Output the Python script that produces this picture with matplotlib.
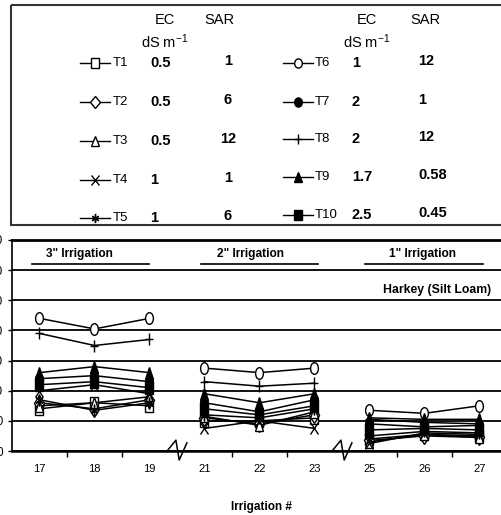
import matplotlib
matplotlib.use('Agg')
import matplotlib.pyplot as plt
from matplotlib.markers import MarkerStyle
from matplotlib.transforms import Affine2D
from matplotlib.patches import Rectangle

plt.rcParams['font.family'] = ['Liberation Sans', 'DejaVu Sans']
plt.rcParams['mathtext.fontset'] = 'custom'
plt.rcParams['mathtext.rm'] = 'Liberation Sans'
plt.rcParams['mathtext.default'] = 'regular'

# data
irrigations = ['17', '18', '19', '21', '22', '23', '25', '26', '27']
groups = ['3" Irrigation', '2" Irrigation', '1" Irrigation']
treatments = ['T1', 'T2', 'T3', 'T4', 'T5', 'T6', 'T7', 'T8', 'T9', 'T10']
ec_values = ['0.5', '0.5', '0.5', '1', '1', '1', '2', '2', '1.7', '2.5']
sar_values = ['1', '6', '12', '1', '6', '12', '1', '12', '0.58', '0.45']

t1 = [14, 16, 15, 10, 10, 11, 4, 5.5, 5]
t2 = [16, 14, 17, 11, 9, 12, 3.5, 5, 4.5]
t3 = [15, 16, 18, 11.5, 8.5, 13, 3, 5.5, 4.5]
t4 = [20, 22, 19, 7.5, 10, 7.5, 2.5, 6, 5.5]
t5 = [17, 13.5, 16, 12, 11, 14, 5, 6.5, 6]
t6 = [44, 40.5, 44, 27.5, 26, 27.5, 13.5, 12.5, 15]
t7 = [24, 25, 23, 16, 13, 17, 9, 8, 8.5]
t8 = [39, 35, 37, 23, 21.5, 22.5, 10.5, 9.5, 9]
t9 = [26, 28, 26, 19, 16, 19, 11, 10.5, 10.5]
t10 = [22, 23, 21, 14, 12, 15, 7, 7.5, 7]
series = [t1, t2, t3, t4, t5, t6, t7, t8, t9, t10]

# marker, filled
styles = [('s', False), ('D', False), ('^', False), ('x', False), ((6, 2, 0), False),
          ('o', False), ('o', True), ('+', False), ('^', True), ('s', True)]


def mstyle(m, sy):
    return MarkerStyle(m, transform=Affine2D().scale(1, sy))


fig = plt.figure(figsize=(5.02, 5.15), dpi=100)
W, H = 502, 515
ax = fig.add_axes([12 / W, (H - 451) / H, 495 / W, 211 / H])

for vals, (m, filled) in zip(series, styles):
    for g in range(3):
        xs = list(range(3 * g, 3 * g + 3))
        ax.plot(xs, vals[3 * g:3 * g + 3], color='black', lw=1.1,
                marker=mstyle(m, 1.5), ms=5.6, mew=1.0,
                mfc='black' if filled else 'white', mec='black', zorder=3)

ax.set_xlim(-0.5, 8.5)
ax.set_ylim(0, 70)
ax.set_yticks(range(0, 80, 10))
ax.yaxis.grid(True, color='black', lw=1.3)
ax.set_axisbelow(True)
ax.tick_params(axis='y', length=3, width=1, pad=3.5, labelsize=8.5)
ax.set_xticks(range(9), labels=irrigations)
ax.set_xticks([0.5, 1.5, 3.5, 4.5, 6.5, 7.5], minor=True)
ax.tick_params(axis='x', which='major', length=0, pad=9, labelsize=8)
ax.tick_params(axis='x', which='minor', length=4, width=1, direction='out')
ax.spines['right'].set_visible(False)
ax.spines['top'].set_linewidth(2)
ax.spines['bottom'].set_linewidth(1.8)
ax.spines['left'].set_linewidth(1.2)

# axis break marks
for xb in [2.5, 5.5]:
    ax.plot([xb - 0.18, xb - 0.02, xb + 0.04, xb + 0.18], [0, 3.6, -3, 2.7],
            color='black', lw=1.1, clip_on=False, zorder=4)

label_x = [0.72, 3.84, 6.97]
line_x = [(-0.14, 2.0), (2.93, 5.06), (5.92, 8.06)]
for name, lx, (x0, x1) in zip(groups, label_x, line_x):
    ax.text(lx, 65.4, name, ha='center', va='center', fontsize=8.6, weight='bold')
    ax.plot([x0, x1], [62, 62], color='black', lw=1.2)
ax.text(7.23, 53.5, 'Harkey (Silt Loam)', ha='center', va='center',
        fontsize=8.8, weight='bold')

fig.text(261 / W, 1 - 507 / H, 'Irrigation #', ha='center', va='center',
         fontsize=8.5, weight='bold')

# legend box with EC / SAR table
lg = fig.add_axes([0, 0, 1, 1])
lg.set_xlim(0, W)
lg.set_ylim(H, 0)
lg.axis('off')
lg.add_patch(Rectangle((11, 5), 500, 220, fill=False, ec='#333333', lw=1.5, clip_on=False))

cols = [dict(x0=80, lab=113, ec=150, sar=228, sar_ha='center', hx=165, sx=219,
             rows=[63, 102, 141, 180, 218]),
        dict(x0=283, lab=315, ec=352, sar=418, sar_ha='left', hx=367, sx=425,
             rows=[63, 102, 139, 177, 215])]
for c, col in enumerate(cols):
    lg.text(col['hx'], 20, 'EC', ha='center', va='center', fontsize=10.5)
    lg.text(col['hx'], 42, 'dS m$^{-1}$', ha='center', va='center', fontsize=10.5)
    lg.text(col['sx'], 20, 'SAR', ha='center', va='center', fontsize=10.5)
    for r, y in enumerate(col['rows']):
        i = c * 5 + r
        m, filled = styles[i]
        lg.plot([col['x0'], col['x0'] + 30], [y, y], color='black', lw=1.0)
        lg.plot([col['x0'] + 15], [y], marker=mstyle(m, 1.2), ms=5.5, mew=1.0,
                mfc='black' if filled else 'white', mec='black', color='black')
        lg.text(col['lab'], y, treatments[i], ha='left', va='center', fontsize=9.5)
        lg.text(col['ec'], y, ec_values[i], ha='left', va='center', fontsize=10.5,
                weight='bold')
        lg.text(col['sar'], y - 2, sar_values[i], ha=col['sar_ha'], va='center',
                fontsize=10.5, weight='bold')

fig.savefig('out.png', dpi=100)
